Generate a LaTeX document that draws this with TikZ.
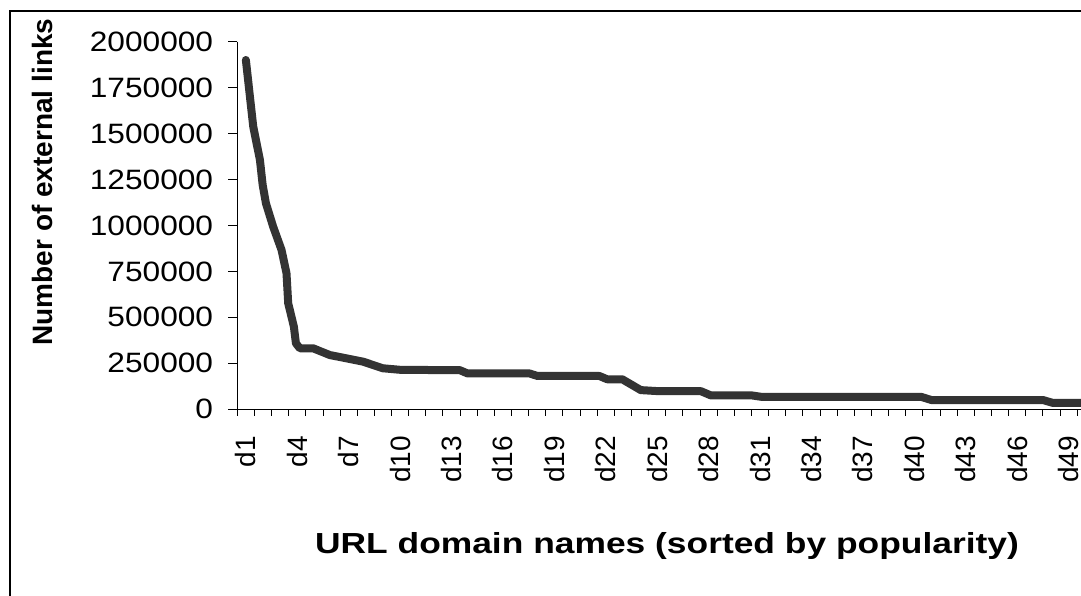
\documentclass[tikz,border=0pt]{standalone}
\usepackage{fontspec}
\setmainfont{Liberation Sans}
\definecolor{curvegray}{RGB}{51,51,51}

\begin{document}
\begin{tikzpicture}[x=1pt, y=-1pt,
    ticklab/.style={inner sep=0pt, font=\fontsize{28}{30}\selectfont},
    axistitle/.style={inner sep=0pt, font=\fontsize{29}{32}\selectfont\bfseries}]
  \useasboundingbox (0,0) rectangle (1081,596);
  % chart frame, right and bottom sides are cut off
  \coordinate (fbl) at (10,600);
  \coordinate (ftl) at (10,11);
  \coordinate (ftr) at (1090,11);
  \draw[line width=1.3pt] (fbl) -- (ftl) -- (ftr);

  \node[axistitle, font=\fontsize{28}{30}\selectfont\bfseries, rotate=90] (ytitle) at (42,182) {Number of external links};
  \node[axistitle, xscale=1.22, anchor=base] (xtitle) at (667,553) {URL domain names (sorted by popularity)};

  \begin{scope}[shift={(237.3,409)}, x=17.14pt, y=0.1835pt]
    \coordinate (origin) at (0,0);
    \coordinate (ytop) at (0,2000);
    \coordinate (xend) at (50,0);
    \draw[line width=1pt] (ytop) -- (origin) -- (xend);
    % value axis
    \foreach \lab [count=\i from 0] in {0,250000,500000,750000,1000000,1250000,1500000,1750000,2000000}
      {\draw[line width=1pt] (0,\i*250) -- ++(-9pt,0);
       \path (0,\i*250) ++(-24pt,0) node[ticklab, xscale=1.13, anchor=east] (ylab\i) {\lab};}
    % category axis
    \foreach \k in {0,...,49}
      \draw[line width=1pt] (\k,0) -- ++(0,-7pt);
    \foreach \k in {1,4,...,49}
      \path (\k-0.5,0) ++(0,-27pt) node[ticklab, rotate=90, anchor=east] (xlab\k) {d\k};
    % links per domain
    \draw[curvegray, line width=8pt, line join=round, line cap=round] plot coordinates {
      (0.50,1902) (0.93,1539) (1.32,1357) (1.48,1221) (1.67,1121) (2.09,994)
      (2.58,867) (2.87,740) (2.97,576) (3.30,449) (3.42,358) (3.65,331)
      (4.42,331) (5.40,294) (7.34,258) (8.49,222) (9.57,213) (12.97,212)
      (13.43,194) (17.04,194) (17.51,180) (21.12,180) (21.58,162) (22.46,162)
      (23.54,103) (24.61,97) (27.05,97) (27.63,74) (30.02,74) (30.60,66)
      (39.91,66) (40.49,49) (47.00,49) (47.59,33) (49.75,33)};
  \end{scope}
\end{tikzpicture}
\end{document}
